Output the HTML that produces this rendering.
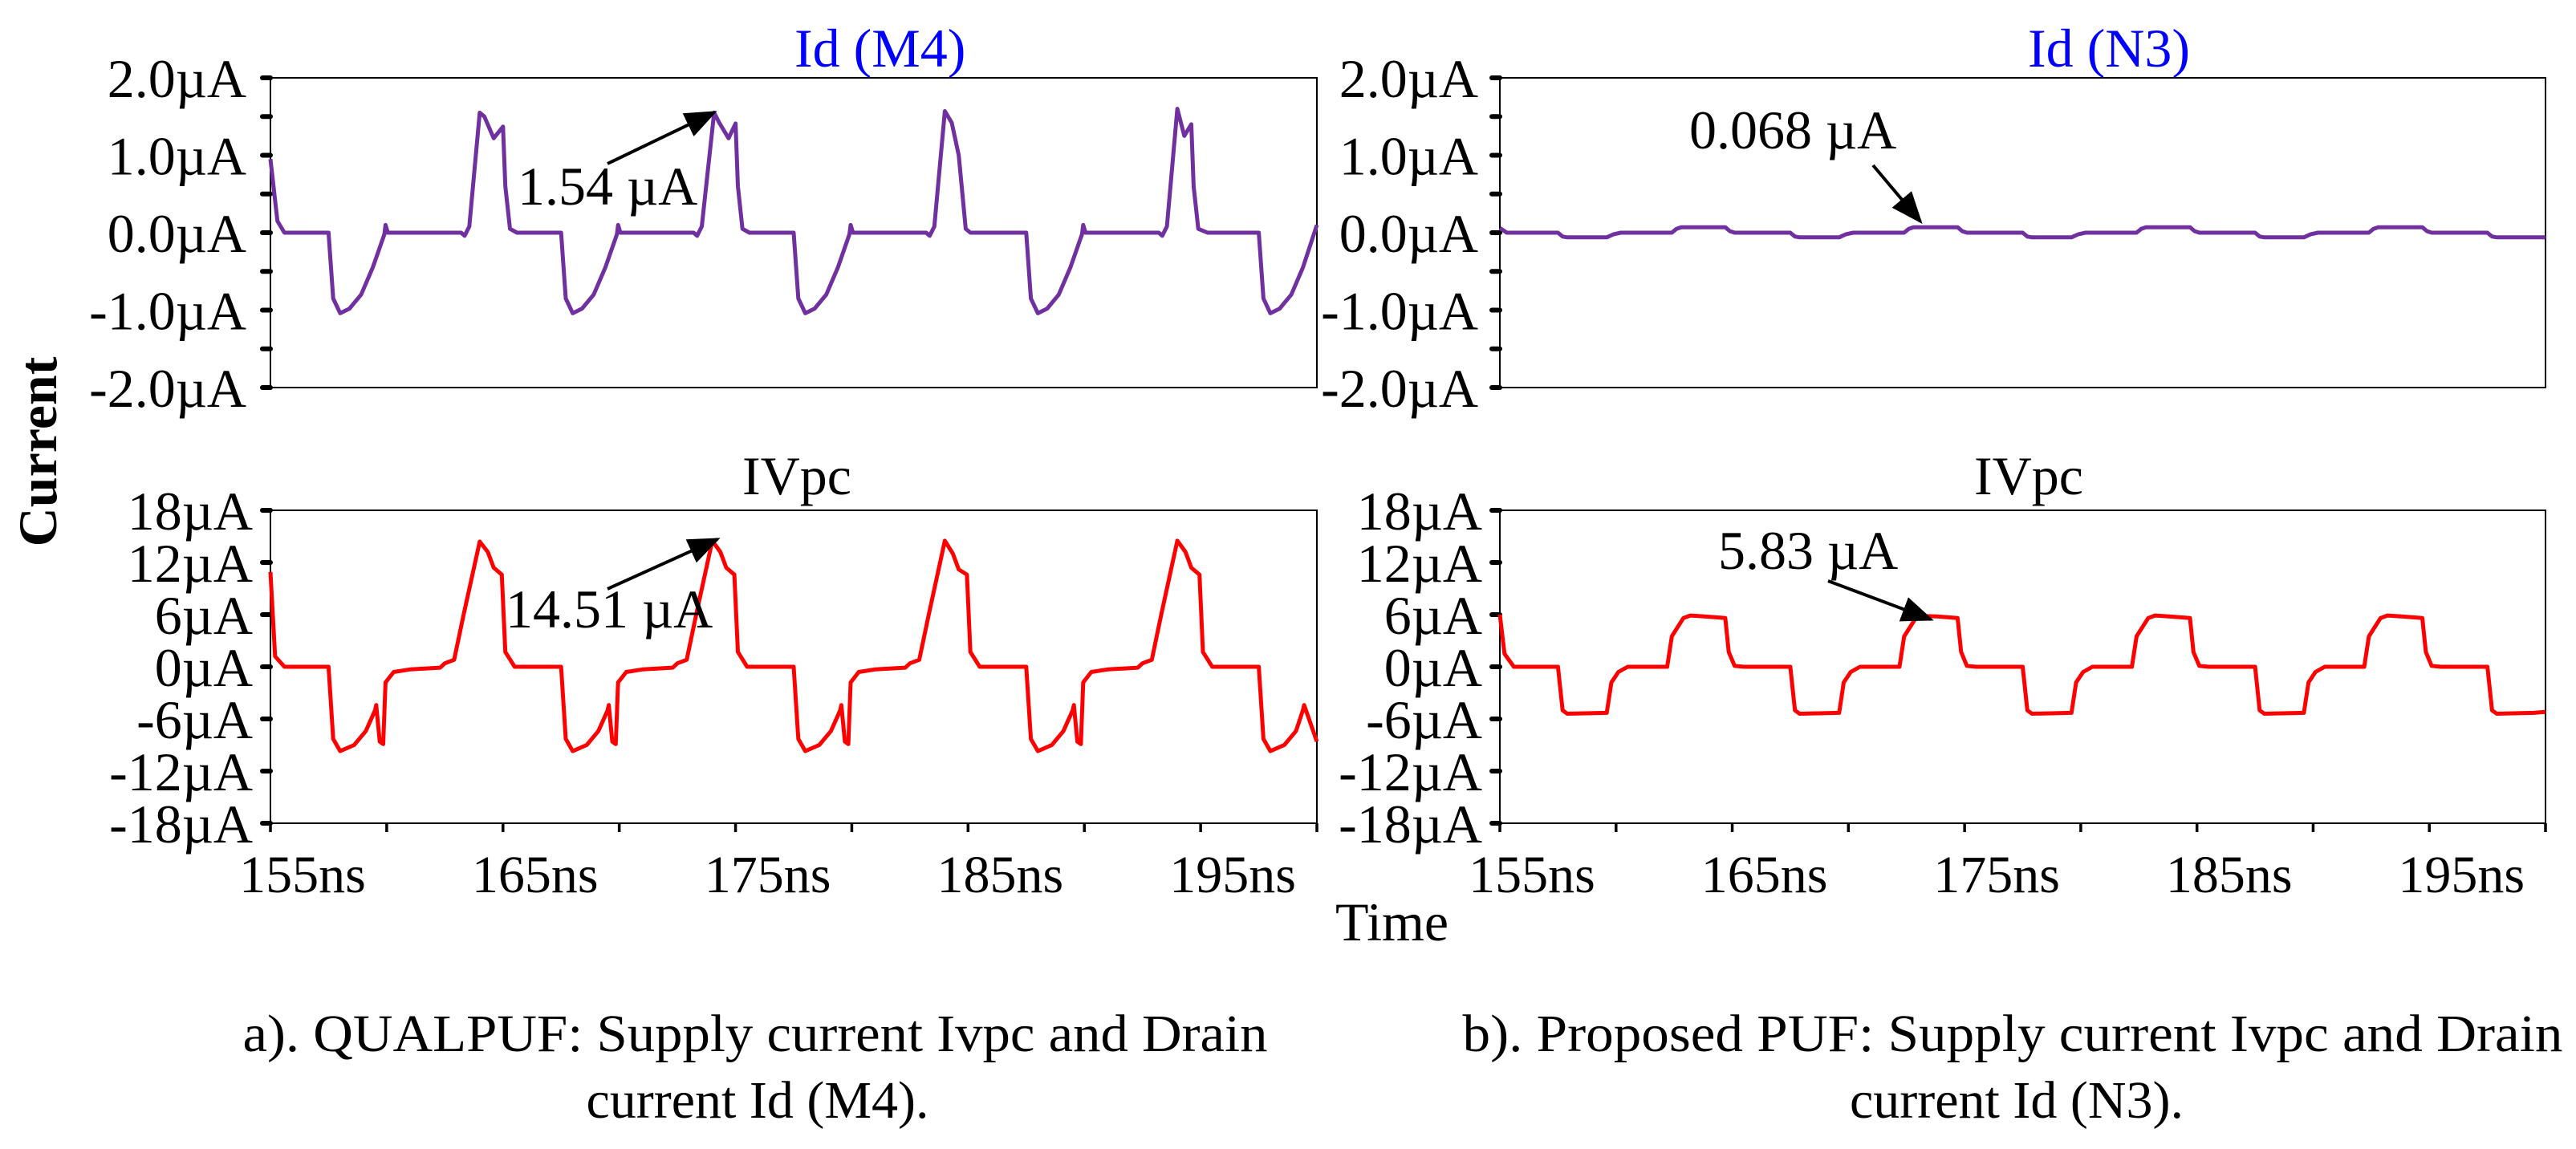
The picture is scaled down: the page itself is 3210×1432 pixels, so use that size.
<!DOCTYPE html>
<html><head><meta charset="utf-8"><style>
html,body{margin:0;padding:0;background:#fff;}
svg{display:block;font-family:"Liberation Serif",serif;}
</style></head><body>
<svg id="fig" width="3210" height="1432" viewBox="0 0 3210 1432" xmlns="http://www.w3.org/2000/svg">
<defs><marker id="ah" markerWidth="10" markerHeight="8" refX="9" refY="4" orient="auto" markerUnits="strokeWidth"><path d="M0,0 L10,4 L0,8 z" fill="#000"/></marker></defs>
<rect width="3210" height="1432" fill="#fff"/>
<g id="plots"></g>
<text x="47" y="563" font-size="68" font-weight="bold" text-anchor="middle" dominant-baseline="central" transform="rotate(-90 47 563)">Current</text>
<text x="1664" y="1172" font-size="68">Time</text>
<text x="990" y="83" font-size="68" fill="#0000ff">Id (M4)</text>
<text x="2527" y="83" font-size="68" fill="#0000ff">Id (N3)</text>
<text x="925" y="616" font-size="68">IVpc</text>
<text x="2460" y="616" font-size="68">IVpc</text>
<text x="941" y="1310" font-size="66" text-anchor="middle" textLength="1277" lengthAdjust="spacingAndGlyphs">a). QUALPUF: Supply current Ivpc and Drain</text>
<text x="944" y="1393" font-size="66" text-anchor="middle">current Id (M4).</text>
<text x="2508" y="1310" font-size="66" text-anchor="middle" textLength="1371" lengthAdjust="spacingAndGlyphs">b). Proposed PUF: Supply current Ivpc and Drain</text>
<text x="2513" y="1393" font-size="66" text-anchor="middle">current Id (N3).</text>
<g id="ann"></g>
</svg>
<script>
// ---- data ----
const xTickLabels = ["155ns","165ns","175ns","185ns","195ns"];
const topTickLabels = ["2.0µA","1.0µA","0.0µA","-1.0µA","-2.0µA"];
const topTickValues = [2,1,0,-1,-2];
const botTickLabels = ["18µA","12µA","6µA","0µA","-6µA","-12µA","-18µA"];
const botTickValues = [18,12,6,0,-6,-12,-18];

const tM4 = [155,155.3,155.6,157.5,157.7,158.0,158.4,158.9,159.4,159.9,159.95,160.05,163.2,163.35,163.55,164.0,164.2,164.6,165.0,165.1,165.3,165.6,
167.5,167.7,168.0,168.4,168.9,169.4,169.9,169.95,170.05,173.2,173.35,173.55,174.08,174.3,174.7,175.0,175.1,175.3,175.6,
177.5,177.7,178.0,178.4,178.9,179.4,179.9,179.95,180.05,183.2,183.35,183.55,184.0,184.3,184.6,184.9,185.1,185.6,
187.5,187.7,188.0,188.4,188.9,189.4,189.9,189.95,190.05,193.2,193.35,193.55,194.0,194.3,194.6,194.7,194.9,195.3,
197.5,197.7,198.0,198.4,198.9,199.4,200];
const vM4 = [0.95,0.15,0,0,-0.85,-1.04,-0.98,-0.8,-0.45,-0.02,0.1,0,0,-0.04,0.08,1.55,1.5,1.22,1.37,0.6,0.05,0,
0,-0.85,-1.04,-0.98,-0.8,-0.45,-0.02,0.1,0,0,-0.04,0.08,1.55,1.42,1.22,1.41,0.6,0.05,0,
0,-0.85,-1.04,-0.98,-0.8,-0.45,-0.02,0.1,0,0,-0.04,0.08,1.57,1.42,1.0,0.05,0,0,
0,-0.85,-1.04,-0.98,-0.8,-0.45,-0.02,0.1,0,0,-0.04,0.08,1.6,1.25,1.4,0.6,0.05,0,
0,-0.85,-1.04,-0.98,-0.8,-0.45,0.1];

const tIvL = [155,155.2,155.6,157.5,157.7,158.0,158.6,159.1,159.5,159.55,159.7,159.85,159.95,160.3,161,162.3,162.5,162.9,163.3,164.0,164.35,164.6,164.95,165.1,165.5,
167.5,167.7,168.0,168.6,169.1,169.5,169.55,169.7,169.85,169.95,170.3,171,172.3,172.5,172.9,173.3,174.0,174.35,174.6,174.95,175.1,175.5,
177.5,177.7,178.0,178.6,179.1,179.5,179.55,179.7,179.85,179.95,180.3,181,182.3,182.5,182.9,183.3,184.0,184.35,184.6,184.95,185.1,185.5,
187.5,187.7,188.0,188.6,189.1,189.5,189.55,189.7,189.85,189.95,190.3,191,192.3,192.5,192.9,193.3,194.0,194.35,194.6,194.95,195.1,195.5,
197.5,197.7,198.0,198.6,199.1,199.4,199.45,200];
const vIvL = [10.9,1.2,0,0,-8.3,-9.7,-9.0,-7.4,-5,-4.4,-8.6,-8.9,-1.8,-0.6,-0.3,-0.1,0.4,0.8,5.9,14.4,13.2,11.4,10.6,1.7,0,
0,-8.3,-9.7,-9.0,-7.4,-5,-4.4,-8.6,-8.9,-1.8,-0.6,-0.3,-0.1,0.4,0.8,5.9,14.5,13.2,11.4,10.6,1.7,0,
0,-8.3,-9.7,-9.0,-7.4,-5,-4.4,-8.6,-8.9,-1.8,-0.6,-0.3,-0.1,0.4,0.8,5.9,14.5,13.0,11.2,10.6,1.7,0,
0,-8.3,-9.7,-9.0,-7.4,-5,-4.4,-8.6,-8.9,-1.8,-0.6,-0.3,-0.1,0.4,0.8,5.9,14.5,13.2,11.4,10.6,1.7,0,
0,-8.3,-9.7,-9.0,-7.4,-5,-4.4,-8.6];

const tN3 = [155,155.3,157.5,157.7,157.9,159.6,159.9,160.2,162.4,162.6,162.8,164.7,164.9,165.1,
167.5,167.7,167.9,169.6,169.9,170.2,172.4,172.6,172.8,174.7,174.9,175.1,
177.5,177.7,177.9,179.6,179.9,180.2,182.4,182.6,182.8,184.7,184.9,185.1,
187.5,187.7,187.9,189.6,189.9,190.2,192.4,192.6,192.8,194.7,194.9,195.1,
197.5,197.7,197.9,200];
const vN3 = [0.06,0,0,-0.05,-0.06,-0.06,-0.02,0,0,0.05,0.07,0.07,0.02,0,
0,-0.05,-0.06,-0.06,-0.02,0,0,0.05,0.07,0.07,0.02,0,
0,-0.05,-0.06,-0.06,-0.02,0,0,0.05,0.07,0.07,0.02,0,
0,-0.05,-0.06,-0.06,-0.02,0,0,0.05,0.07,0.07,0.02,0,
0,-0.05,-0.06,-0.06];

const tIvR = [155,155.2,155.6,157.5,157.7,157.9,159.6,159.8,160.1,160.5,162.2,162.4,162.9,163.2,163.8,164.7,164.85,165.1,165.5,
167.5,167.7,167.9,169.6,169.8,170.1,170.5,172.2,172.4,172.9,173.2,173.8,174.7,174.85,175.1,175.5,
177.5,177.7,177.9,179.6,179.8,180.1,180.5,182.2,182.4,182.9,183.2,183.8,184.7,184.85,185.1,185.5,
187.5,187.7,187.9,189.6,189.8,190.1,190.5,192.2,192.4,192.9,193.2,193.8,194.7,194.85,195.1,195.5,
197.5,197.7,197.9,199.5,200];
const vIvR = [6,1.5,0,0,-5,-5.4,-5.3,-1.8,-0.6,0,0,3.5,5.6,5.9,5.8,5.6,1.7,0.1,0,
0,-5,-5.4,-5.3,-1.8,-0.6,0,0,3.5,5.6,5.83,5.8,5.6,1.7,0.1,0,
0,-5,-5.4,-5.3,-1.8,-0.6,0,0,3.5,5.6,5.9,5.8,5.6,1.7,0.1,0,
0,-5,-5.4,-5.3,-1.8,-0.6,0,0,3.5,5.6,5.9,5.8,5.6,1.7,0.1,0,
0,-5,-5.4,-5.3,-5.2];

// ---- drawing ----
const NS = "http://www.w3.org/2000/svg";
const root = document.getElementById('plots');
function mk(tag, attrs, parent){const e=document.createElementNS(NS,tag);for(const k in attrs)e.setAttribute(k,attrs[k]);(parent||root).appendChild(e);return e;}

function drawPanel(id, x0, x1, y0, y1, vmax, tickVals, tickLabels, minorStep, ts, vs, color, showX, labelGap){
  const g = mk('g',{});
  
  
  const sx = t => x0 + (t-155)/45*(x1-x0);
  const sy = v => (y0+y1)/2 - v/vmax*(y1-y0)/2;
  const frame = mk('rect',{x:x0,y:y0,width:x1-x0,height:y1-y0,fill:'none',stroke:'#000','stroke-width':2},g);
  
  
  for(let v=-vmax; v<=vmax+1e-9; v+=minorStep){
    const tk = mk('line',{x1:x0-10,x2:x0,y1:sy(v),y2:sy(v),stroke:'#000','stroke-width':6,'stroke-linecap':'round'},g);
    
    
  }
  tickVals.forEach((v,i)=>{
    const tx = mk('text',{x:x0-labelGap,y:sy(v)+24,'font-size':68,'text-anchor':'end'},g);
    tx.textContent = tickLabels[i];
    
    
  });
  if(showX){
    for(let t=155; t<=200; t+=5){
      const tk = mk('line',{x1:sx(t),x2:sx(t),y1:y1,y2:y1+11,stroke:'#000','stroke-width':3.5},g);
      
      
    }
    xTickLabels.forEach((lab,i)=>{
      const t = 155 + i*10;
      const tx = mk('text',{x:sx(t)+40,y:y1+86,'font-size':66,'text-anchor':'middle'},g);
      tx.textContent = lab;
      
      
    });
  }
  const pts = ts.map((t,i)=>sx(t).toFixed(1)+','+sy(vs[i]).toFixed(1)).join(' ');
  const line = mk('polyline',{points:pts,fill:'none',stroke:color,'stroke-width':5,'stroke-linejoin':'round'},g);
  
  
  return {sx, sy};
}

drawPanel('id-m4', 337, 1641, 97, 483, 2, topTickValues, topTickLabels, 0.5, tM4, vM4, '#7030a0', false, 30);
drawPanel('id-n3', 1869, 3172, 97, 483, 2, topTickValues, topTickLabels, 0.5, tN3, vN3, '#7030a0', false, 27);
drawPanel('ivpc-left', 337, 1641, 636, 1026, 18, botTickValues, botTickLabels, 6, tIvL, vIvL, '#ff0000', true, 22);
drawPanel('ivpc-right', 1869, 3172, 636, 1026, 18, botTickValues, botTickLabels, 6, tIvR, vIvR, '#ff0000', true, 22);

// annotations
const ann = document.getElementById('ann');
function annot(name, tx, ty, label, ax1, ay1, ax2, ay2){
  const t = mk('text',{x:tx,y:ty,'font-size':68},ann);
  t.textContent = label;
  
  
  const l = mk('line',{x1:ax1,y1:ay1,x2:ax2,y2:ay2,stroke:'#000','stroke-width':4,'marker-end':'url(#ah)'},ann);
  
  
}
annot('annotation-1-54', 645, 255, '1.54 µA', 757, 204, 890, 140);
annot('annotation-14-51', 630, 782, '14.51 µA', 757, 734, 894, 672);
annot('annotation-0-068', 2105, 185, '0.068 µA', 2334, 206, 2393, 276);
annot('annotation-5-83', 2141, 709, '5.83 µA', 2278, 724, 2406, 772);
</script>
</body></html>
